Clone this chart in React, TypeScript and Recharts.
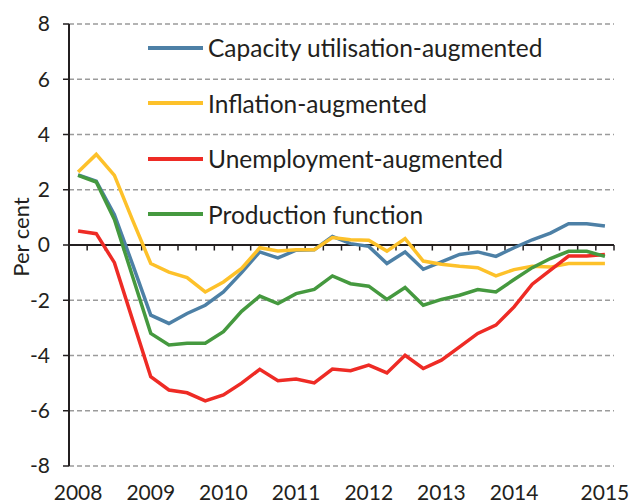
import { CartesianGrid, Line, LineChart, ReferenceLine, XAxis, YAxis } from 'recharts';

const quarters = [
  '2008Q1', '2008Q2', '2008Q3', '2008Q4',
  '2009Q1', '2009Q2', '2009Q3', '2009Q4',
  '2010Q1', '2010Q2', '2010Q3', '2010Q4',
  '2011Q1', '2011Q2', '2011Q3', '2011Q4',
  '2012Q1', '2012Q2', '2012Q3', '2012Q4',
  '2013Q1', '2013Q2', '2013Q3', '2013Q4',
  '2014Q1', '2014Q2', '2014Q3', '2014Q4',
  '2015Q1', '2015Q2',
];

// quarters that carry a year label on the axis
const labelledQuarters = ['2008Q1', '2009Q1', '2010Q1', '2011Q1', '2012Q1', '2013Q1', '2014Q1', '2015Q2'];

const capacity = [
  2.54, 2.31, 1.1, -0.7, -2.54, -2.84, -2.48, -2.18, -1.7, -1.0,
  -0.25, -0.47, -0.19, -0.17, 0.31, 0.05, -0.05, -0.67, -0.25, -0.88,
  -0.61, -0.34, -0.25, -0.41, -0.1, 0.19, 0.43, 0.77, 0.77, 0.69,
];
const inflation = [
  2.64, 3.28, 2.52, 0.9, -0.67, -0.98, -1.18, -1.7, -1.34, -0.85,
  -0.1, -0.22, -0.17, -0.17, 0.27, 0.19, 0.17, -0.22, 0.23, -0.58,
  -0.7, -0.77, -0.82, -1.12, -0.89, -0.77, -0.8, -0.67, -0.67, -0.67,
];
const unemployment = [
  0.51, 0.41, -0.64, -2.71, -4.77, -5.25, -5.35, -5.64, -5.43, -5.0,
  -4.5, -4.91, -4.85, -4.99, -4.49, -4.55, -4.35, -4.63, -3.99, -4.47,
  -4.17, -3.69, -3.2, -2.9, -2.24, -1.42, -0.91, -0.4, -0.4, -0.34,
];
const production = [
  2.52, 2.28, 0.92, -1.14, -3.2, -3.62, -3.56, -3.56, -3.14, -2.4,
  -1.85, -2.12, -1.76, -1.61, -1.12, -1.4, -1.49, -1.97, -1.54, -2.18,
  -1.97, -1.82, -1.61, -1.7, -1.25, -0.82, -0.49, -0.23, -0.23, -0.41,
];

const yTicks = [-8, -6, -4, -2, 0, 2, 4, 6, 8];

const series = [
  { key: 'capacity', name: 'Capacity utilisation-augmented', color: '#4d80a6', values: capacity },
  { key: 'inflation', name: 'Inflation-augmented', color: '#fdc12a', values: inflation },
  { key: 'unemployment', name: 'Unemployment-augmented', color: '#ee2b25', values: unemployment },
  { key: 'production', name: 'Production function', color: '#45993f', values: production },
];

const data = quarters.map((q, i) => {
  const row: Record<string, string | number> = { i, quarter: q };
  series.forEach((s) => { row[s.key] = s.values[i]; });
  return row;
});

const xTicks = labelledQuarters.map((q) => quarters.indexOf(q));

const FONT = 'Lato, "DejaVu Sans", sans-serif';
const TEXT = '#231f20';

function App() {
  return (
    <div style={{ position: 'absolute', left: 0, top: 0, width: 633, height: 503, background: '#fff', fontFamily: FONT }}>
      <LineChart width={633} height={503} data={data} margin={{ top: 24, right: 19, left: 0, bottom: 0 }}>
        <CartesianGrid horizontal vertical={false} stroke="#9b9b9b" strokeDasharray="5 3" strokeWidth={1.5} />
        <XAxis
          dataKey="i"
          type="number"
          domain={[-0.5, quarters.length - 0.5]}
          ticks={xTicks}
          tickFormatter={(v: number) => quarters[v].slice(0, 4)}
          axisLine={false}
          tickLine={false}
          tickMargin={13}
          height={37}
          tick={{ fill: TEXT, fontSize: 21, fontFamily: FONT }}
          interval={0}
        />
        <YAxis
          domain={[-8, 8]}
          ticks={yTicks}
          width={69}
          axisLine={{ stroke: '#231f20', strokeWidth: 2 }}
          tickLine={{ stroke: '#231f20', strokeWidth: 1.5 }}
          tickSize={6}
          tickMargin={13}
          tick={{ fill: TEXT, fontSize: 21, fontFamily: FONT }}
          label={{ value: 'Per cent', angle: -90, position: 'center', dx: -13, dy: -8, fill: TEXT, fontSize: 22, fontFamily: FONT }}
        />
        <ReferenceLine y={0} stroke="#231f20" strokeWidth={2} />
        {quarters.map((q, k) => (
          <ReferenceLine
            key={'t' + q}
            segment={[{ x: k + 0.5, y: 0 }, { x: k + 0.5, y: -0.2 }]}
            stroke="#231f20"
            strokeWidth={1.5}
          />
        ))}
        {series.map((s) => (
          <Line
            key={s.key}
            type="linear"
            dataKey={s.key}
            name={s.name}
            stroke={s.color}
            strokeWidth={3.5}
            dot={false}
            isAnimationActive={false}
          />
        ))}
      </LineChart>
      <div style={{ position: 'absolute', left: 148, top: 20, pointerEvents: 'none' }}>
        {series.map((s) => (
          <div key={s.key} style={{ height: 55.5, display: 'flex', alignItems: 'center' }}>
            <div style={{ width: 55, height: 4, background: s.color, marginRight: 5 }} />
            <span style={{ fontSize: 24.5, color: TEXT, fontFamily: FONT }}>{s.name}</span>
          </div>
        ))}
      </div>
    </div>
  );
}

export default App;
